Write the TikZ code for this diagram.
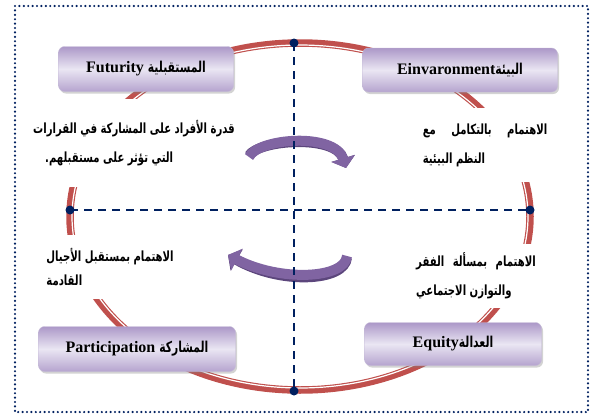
\documentclass[tikz,border=0pt]{standalone}
\usepackage{fontspec}
\setmainfont{Liberation Serif}
\newfontfamily\arabicfont[Script=Arabic, FakeStretch=0.72]{DejaVu Sans}
\TeXXeTstate=1
\usetikzlibrary{arrows.meta, shadows}
\definecolor{ringred}{RGB}{192,80,77}
\definecolor{navy}{RGB}{0,32,96}
\definecolor{boxdark}{RGB}{172,152,200}
\definecolor{boxlight}{RGB}{234,230,243}
\definecolor{boxedge}{RGB}{196,186,214}
\definecolor{turnpurple}{RGB}{128,100,162}
\definecolor{turndark}{RGB}{92,70,124}

\begin{document}
\begin{tikzpicture}[x=1pt, y=-1pt,
    box/.style={draw=boxedge, rounded corners=6pt, top color=boxdark,
      bottom color=boxdark!85!boxlight, middle color=boxlight,
      drop shadow={shadow xshift=1.5pt, shadow yshift=-2pt, opacity=0.35},
      font=\bfseries\fontsize{16}{18}\selectfont, inner sep=0pt},
    note/.style={fill=white, inner sep=0pt, align=left,
      font=\arabicfont\bfseries\fontsize{14}{29}\selectfont},
    link/.style={draw=navy, line width=2.8pt, dash pattern=on 8pt off 6pt},
    turn/.style={draw=turnpurple, line width=10pt, -{Triangle[width=24pt,length=10pt]}}]
  \useasboundingbox (0,0) rectangle (592,418);
  % outer frame
  \draw[navy, line width=2.4pt, line cap=round, dash pattern=on 0pt off 4.4pt]
    (15,6) rectangle (588,412);
  % red ring
  \draw[ringred, line width=7.5pt] (300,216.5) ellipse [x radius=230, y radius=173.5];
  \draw[white, line width=1.2pt] (300,216.5) ellipse [x radius=228, y radius=171.5];
  % notes
  \node[note, minimum width=212, minimum height=88] (futNote) at (134,143)
    {\beginR قدرة الأفراد على المشاركة في القرارات\endR\\
     \hspace*{12pt}\beginR التي تؤثر على مستقبلهم.\endR};
  \node[note, minimum width=150, minimum height=74] (envNote) at (485,145)
    {\beginR الاهتمام\hspace{12pt} بالتكامل\hspace{12pt} مع\endR\\
     \beginR النظم البيئية\endR};
  \node[note, minimum width=140, minimum height=64, font=\arabicfont\bfseries\fontsize{14}{24}\selectfont]
    (partNote) at (110,267)
    {\beginR الاهتمام بمستقبل الأجيال\endR\\
     \beginR القادمة\endR};
  \node[note, minimum width=130, minimum height=64] (eqNote) at (476,276)
    {\beginR الاهتمام\hspace{5pt} بمسألة\hspace{5pt} الفقر\endR\\
     \beginR والتوازن الاجتماعي\endR};
  % boxes
  \node[box, minimum width=175, minimum height=45] (futBox) at (146,69)
    {Futurity {\arabicfont\beginR\fontsize{15}{18}\selectfont المستقبلية\endR}};
  \node[box, minimum width=195, minimum height=44] (envBox) at (460,70)
    {Einvaronment{\arabicfont\beginR\fontsize{15}{18}\selectfont البيئة\endR}};
  \node[box, minimum width=197, minimum height=45] (partBox) at (137,349)
    {Participation {\arabicfont\beginR\fontsize{15}{18}\selectfont المشاركة\endR}};
  \node[box, minimum width=177, minimum height=43] (eqBox) at (453,344)
    {Equity{\arabicfont\beginR\fontsize{15}{18}\selectfont العدالة\endR}};
  % turning arrows
  \coordinate (upFrom) at (249,157);
  \coordinate (upTo) at (346,168);
  \coordinate (lowFrom) at (347,256);
  \coordinate (lowTo) at (228,255);
  \draw[turn, draw=turndark] ([yshift=1.5pt]upFrom) .. controls (258,140) and (336,134) .. (upTo);
  \draw[turn] (upFrom) .. controls (258,138) and (335,132) .. (upTo);
  \draw[turn, draw=turndark] ([yshift=-1.5pt]lowFrom) .. controls (345,282) and (280,285) .. (lowTo);
  \draw[turn] (lowFrom) .. controls (345,279) and (280,282) .. (lowTo);
  % axes
  \coordinate (top) at (294,43);
  \coordinate (bottom) at (294,391);
  \coordinate (left) at (70,210);
  \coordinate (right) at (530,210);
  \draw[link] (top) -- (bottom);
  \draw[link] (left) -- (right);
  \foreach \p in {top, bottom, left, right}
    \fill[navy] (\p) circle (4.5);
\end{tikzpicture}
\end{document}
